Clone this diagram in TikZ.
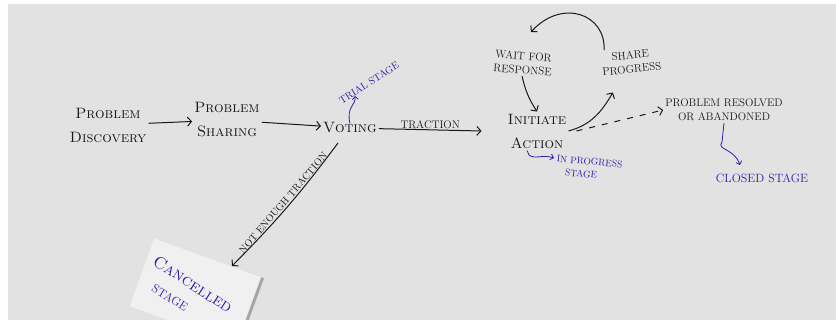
\documentclass[tikz,border=0pt]{standalone}
\usepackage{tikz}
\usetikzlibrary{arrows.meta}

\definecolor{board}{RGB}{226,226,226}
\definecolor{ink}{RGB}{28,24,24}
\definecolor{marker}{RGB}{48,30,170}

\begin{document}
\begin{tikzpicture}[x=1pt,y=1pt,
  idea/.style={text=ink,align=center,inner sep=2pt,
    font=\fontsize{15}{24}\selectfont\scshape},
  tag/.style={text=ink,align=center,inner sep=2pt,
    font=\fontsize{11}{14}\selectfont},
  note/.style={text=marker,align=center,inner sep=1pt,
    font=\fontsize{9.5}{13}\selectfont},
  flow/.style={draw=ink,line width=1pt,-{Straight Barb[length=4pt,width=9pt]}},
  hint/.style={draw=marker,line width=0.8pt,-{Straight Barb[length=3pt,width=6pt]}}]
% board
\fill[white!96!board] (0,0) rectangle (836,320);
\fill[board] (8,0) rectangle (836,316);
\useasboundingbox (0,0) rectangle (836,320);

% main line
\node[idea] (disc) at (108,195) {Problem\\Discovery};
\node[idea] (share) at (227,200) {Problem\\Sharing};
\node[idea] (vote) at (350,192) {Voting};
\node[idea] (act) at (537,189) {Initiate\\Action};
\node[tag,rotate=-4] (wait) at (523,257) {WAIT FOR\\RESPONSE};
\node[tag,rotate=6] (prog) at (631,258) {SHARE\\PROGRESS};
\node[tag] (end) at (724,210) {PROBLEM RESOLVED\\OR ABANDONED};

\draw[flow] (disc) -- (share);
\draw[flow] (share) -- (vote);
\draw[flow] (vote) -- node[above,tag,inner sep=1pt] {TRACTION}
  ([xshift=-24pt]act.west);

% loop
\draw[flow] (wait.south) to[bend right=10] (act.north);
\draw[flow] (act.east) to[out=15,in=-120] ([shift={(12,-14)}]prog.south west);
\draw[flow] ([shift={(6,2)}]prog.north west) .. controls (606,306) and (562,322) .. (531,288);
\draw[flow,dashed,dash pattern=on 6pt off 7pt] ([xshift=8pt]act.east) -- (end.west);

% stages
\node[note,rotate=33,font=\fontsize{10}{12}\selectfont] (trial) at (369,237) {TRIAL STAGE};
\coordinate (trialtip) at (355,224);
\draw[hint] ([yshift=-3pt]vote.north) .. controls (346,214) and (356,214) .. (trialtip);

\node[note,align=left,rotate=-5] (inprog) at (589,152) {IN PROGRESS\\\ \ \ STAGE};
\coordinate (inprogtip) at (554,162);
\draw[hint] ([xshift=-10pt]act.south) -- (529,165) .. controls (536,160) and (542,166) .. (inprogtip);

\node[note,font=\fontsize{12}{13}\selectfont] (closed) at (762,142) {CLOSED STAGE};
\coordinate (closedtip) at (740,155);
\draw[hint] (end.south) -- (722,178) .. controls (716,170) and (734,172) .. (closedtip);

% cancelled
\node[fill=white!50!board,rotate=-20,minimum width=115pt,
  minimum height=72pt] (paper) at (196,28) {};
\draw[gray!70,line width=3pt] (paper.north east) -- (paper.south east);
\node[text=marker,rotate=-33,font=\fontsize{17}{18}\selectfont\scshape]
  (cancel) at (193,36) {Cancelled};
\node[note,rotate=-32,font=\fontsize{12}{13}\selectfont] (cstage) at (170,22) {STAGE};
\coordinate (notstart) at (338,177);
\coordinate (cancelTip) at (232,54);
\draw[flow] (notstart) to[bend left=4]
  node[sloped,above,tag,font=\fontsize{10}{12}\selectfont,pos=0.5,inner sep=1.5pt]
  {NOT ENOUGH TRACTION} (cancelTip);
\end{tikzpicture}
\end{document}
